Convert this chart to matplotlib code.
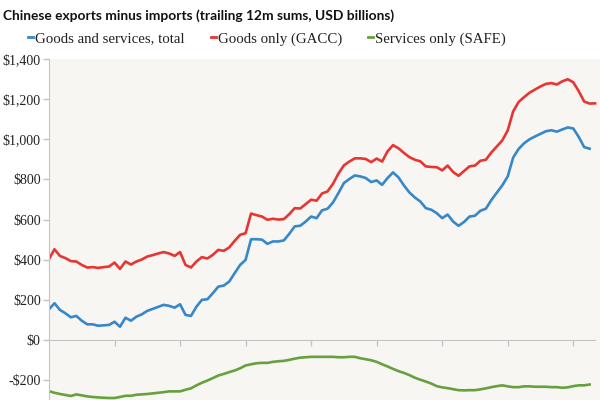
import numpy as np
import matplotlib
matplotlib.use("Agg")
import matplotlib.pyplot as plt

# Monthly observations (index of month)
total = [153, 183, 150, 133, 113, 120, 96, 78, 78, 71, 73, 75, 91, 66, 111, 96, 116, 128, 145, 155,
         165, 175, 170, 161, 178, 125, 120, 166, 200, 203, 233, 266, 271, 291, 333, 374, 399, 502, 502, 500,
         479, 491, 491, 496, 529, 566, 569, 590, 615, 607, 646, 654, 685, 732, 782, 802, 820, 815, 807, 787,
         795, 773, 807, 835, 810, 770, 735, 710, 690, 657, 649, 632, 607, 625, 590, 569, 588, 615, 619, 644,
         654, 697, 734, 770, 815, 909, 952, 980, 1000, 1014, 1027, 1040, 1045, 1038, 1049, 1059, 1054, 1012, 961, 953,
         np.nan]
goods = [403, 452, 419, 408, 393, 391, 374, 361, 363, 359, 363, 366, 386, 354, 391, 376, 391, 401, 416, 423,
         431, 438, 431, 419, 438, 374, 361, 391, 413, 406, 424, 449, 444, 461, 494, 524, 532, 630, 622, 615,
         599, 604, 600, 602, 627, 657, 655, 677, 699, 694, 730, 740, 778, 829, 870, 889, 905, 905, 902, 886,
         904, 889, 940, 971, 955, 932, 911, 898, 890, 865, 862, 861, 845, 869, 837, 818, 842, 865, 869, 893,
         898, 934, 964, 994, 1044, 1139, 1186, 1210, 1232, 1248, 1263, 1276, 1280, 1273, 1289, 1299, 1284, 1240, 1188, 1178,
         1179]
services = [-255, -263, -269, -274, -279, -271, -276, -281, -284, -286, -288, -289, -289, -284, -278, -278, -273, -271, -269, -266,
            -263, -260, -256, -256, -256, -248, -241, -226, -213, -202, -190, -177, -169, -160, -152, -141, -127, -121, -116, -114,
            -114, -109, -106, -104, -99, -93, -88, -86, -84, -84, -84, -84, -84, -86, -86, -84, -84, -91, -96, -101,
            -109, -121, -132, -144, -155, -164, -175, -188, -198, -207, -217, -230, -236, -240, -245, -250, -251, -250, -250, -246,
            -241, -235, -230, -226, -231, -235, -235, -231, -231, -233, -233, -233, -235, -235, -238, -236, -230, -226, -226, -222,
            np.nan]
months = np.arange(len(goods))
year_ticks = [12, 24, 36, 48, 60, 72, 84, 96]
y_ticks = [-200, 0, 200, 400, 600, 800, 1000, 1200, 1400]
y_labels = ["-$200", "$0", "$200", "$400", "$600", "$800", "$1,000", "$1,200", "$1,400"]

series_names = ["Goods and services, total", "Goods only (GACC)", "Services only (SAFE)"]
colors = ["#3787c9", "#e73534", "#67a03e"]

fig = plt.figure(figsize=(6, 4), dpi=100)
ax = fig.add_axes([49/600, 0, 1 - 49/600, 1 - 59/400])
ax.set_facecolor("#f7f6f2")

for data, name, c in zip([total, goods, services], series_names, colors):
    ax.plot(months, data, color=c, lw=1.9, label=name, solid_joinstyle="round")

ax.set_xlim(0, 100.9)
ax.set_ylim(-299, 1400)
ax.set_yticks(y_ticks)
ax.set_yticklabels(y_labels, family="Liberation Serif", fontsize=10)
ax.set_xticks(year_ticks)
ax.set_xticklabels([])

for s in ["top", "right"]:
    ax.spines[s].set_visible(False)
ax.spines["bottom"].set_position(("data", 0))
ax.spines["bottom"].set_bounds(0, 100)
ax.spines["bottom"].set_color("#c4c4c4")
ax.spines["left"].set_color("#c4c4c4")
ax.tick_params(axis="both", direction="out", length=4, color="#c4c4c4", width=1)
ax.tick_params(axis="y", pad=2, labelcolor="#222222")

fig.text(0.005, 1 - 16/400, "Chinese exports minus imports (trailing 12m sums, USD billions)",
         family="Lato", fontweight="bold", fontsize=9.9, va="center", ha="left", color="#111111")

leg = fig.legend(loc="center left", bbox_to_anchor=(28/600, 1 - 39/400), ncol=3, frameon=False,
                 handlelength=0.35, handletextpad=0.13, columnspacing=1.75,
                 prop={"family": "Liberation Serif", "size": 10.7}, borderaxespad=0, borderpad=0)
for h in leg.get_lines():
    h.set_linewidth(2)
for t in leg.get_texts():
    t.set_color("#222222")

fig.savefig("out.png", dpi=100, facecolor="white")
